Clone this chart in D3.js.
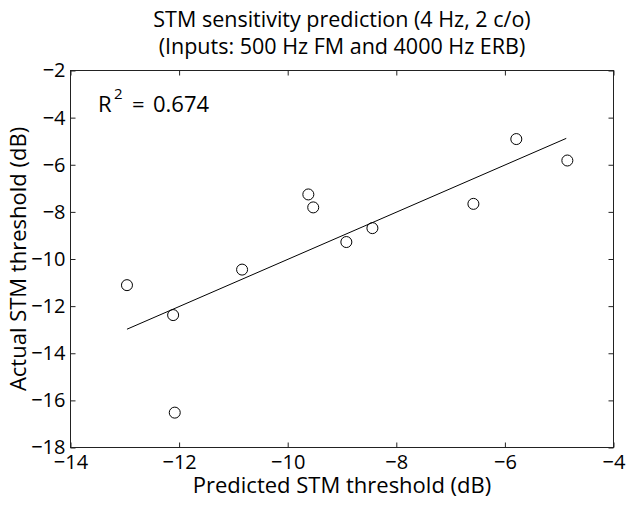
<!DOCTYPE html>
<html><head><meta charset="utf-8">
<script src="https://cdn.jsdelivr.net/npm/d3@7"></script>
<style>body{margin:0;background:#fff}svg{display:block}text{font-family:"Open Sans",sans-serif;fill:#000}</style>
</head><body>
<script>
const predicted = [-12.96,-12.11,-12.08,-10.84,-9.62,-9.53,-8.92,-8.44,-6.58,-5.79,-4.85];
const actual    = [-11.11,-12.38,-16.52,-10.45,-7.26,-7.81,-9.28,-8.69,-7.66,-4.91,-5.82];
const fitX = [-12.96,-4.87];
const fitY = [-12.98,-4.88];
const xTicks = [-14,-12,-10,-8,-6,-4];
const yTicks = [-18,-16,-14,-12,-10,-8,-6,-4,-2];
const titleLines = ["STM sensitivity prediction (4 Hz, 2 c/o)","(Inputs: 500 Hz FM and 4000 Hz ERB)"];
const xLabel = "Predicted STM threshold (dB)";
const yLabel = "Actual STM threshold (dB)";
const r2Text = "0.674";

const W=629,H=505;
const L=70.5,R=613.5,T=70.5,B=447.5;
const svg=d3.select("body").append("svg").attr("width",W).attr("height",H);
const x=d3.scaleLinear().domain([-14,-4]).range([L,R]);
const y=d3.scaleLinear().domain([-18,-2]).range([B,T]);
const fmt=d=>d<0?"\u2212"+Math.abs(d):String(d);

svg.append("rect").attr("x",L).attr("y",T).attr("width",R-L).attr("height",B-T)
  .attr("fill","none").attr("stroke","#222").attr("stroke-width",1);

const tl=5;
const xb=svg.append("g").attr("transform",`translate(0,${B})`)
  .call(d3.axisBottom(x).tickValues(xTicks).tickSizeInner(-tl).tickSizeOuter(0).tickPadding(7).tickFormat(fmt));
const xt=svg.append("g").attr("transform",`translate(0,${T})`)
  .call(d3.axisTop(x).tickValues(xTicks).tickSizeInner(-tl).tickSizeOuter(0).tickFormat(""));
const yl=svg.append("g").attr("transform",`translate(${L},0)`)
  .call(d3.axisLeft(y).tickValues(yTicks).tickSizeInner(-tl).tickSizeOuter(0).tickPadding(5).tickFormat(fmt));
const yr=svg.append("g").attr("transform",`translate(${R},0)`)
  .call(d3.axisRight(y).tickValues(yTicks).tickSizeInner(-tl).tickSizeOuter(0).tickFormat(""));
[xb,xt,yl,yr].forEach(g=>{g.select(".domain").remove();g.selectAll("line").attr("stroke","#222");
  g.selectAll("text").style("font-size","20px").attr("fill","#000");});
xb.selectAll("text").attr("dy","0.71em");

svg.append("line").attr("x1",x(fitX[0])).attr("y1",y(fitY[0])).attr("x2",x(fitX[1])).attr("y2",y(fitY[1]))
  .attr("stroke","#000").attr("stroke-width",1);

svg.append("g").selectAll("circle").data(predicted.map((p,i)=>[p,actual[i]])).join("circle")
  .attr("cx",d=>x(d[0])).attr("cy",d=>y(d[1])).attr("r",5.5)
  .attr("fill","none").attr("stroke","#000").attr("stroke-width",1);

// R^2 annotation
const rt=svg.append("text").attr("y",112).style("font-size","22px");
rt.append("tspan").attr("x",98).text("R");
rt.append("tspan").attr("x",114).attr("y",99).style("font-size","15px").text("2");
rt.append("tspan").attr("x",132).attr("y",112).text("=");
rt.append("tspan").attr("x",153).text(r2Text);

svg.append("g").selectAll("text").data(titleLines).join("text")
  .attr("x",(L+R)/2).attr("y",(d,i)=>27+i*26.5).attr("text-anchor","middle").style("font-size","21.5px").text(d=>d);

svg.append("text").attr("x",(L+R)/2).attr("y",493).attr("text-anchor","middle").style("font-size","22px").text(xLabel);
svg.append("text").attr("transform",`translate(26,${(T+B)/2}) rotate(-90)`).attr("text-anchor","middle").style("font-size","22px").text(yLabel);
</script>
</body></html>
